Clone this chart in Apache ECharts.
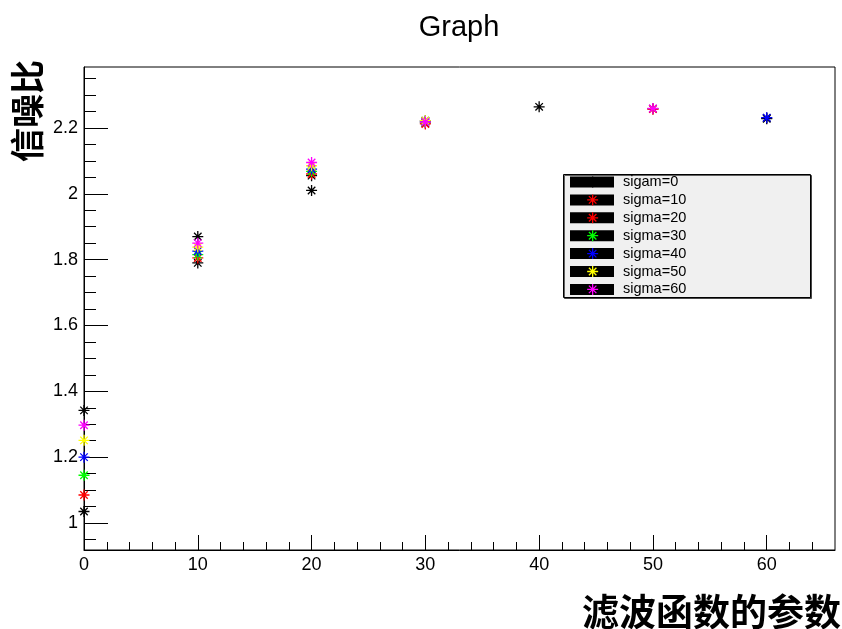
<!DOCTYPE html>
<html>
<head>
<meta charset="utf-8">
<title>Graph</title>
<script src="https://cdn.jsdelivr.net/npm/echarts@6/dist/echarts.min.js"></script>
<style>
  html, body { margin: 0; padding: 0; background: #fff; }
  #chart { width: 842px; height: 629px; }
</style>
</head>
<body>
<div id="chart"></div>
<script>
// Filter parameter values along the x axis
const params = [0, 10, 20, 30, 40, 50, 60];

// Signal-to-noise ratio for each sigma (null = no point at that parameter)
const sigam0  = [1.342, 1.870, 2.055, 2.222, 2.264, 2.258, 2.230];
const sigma10 = [1.035, 1.790, 2.010, 2.215, null,  null,  2.228];
const sigma20 = [1.085, 1.805, 2.060, 2.212, null,  2.257, null ];
const sigma30 = [1.145, 1.815, 2.068, 2.218, null,  null,  null ];
const sigma40 = [1.200, 1.826, 2.075, 2.220, null,  null,  2.231];
const sigma50 = [1.251, 1.838, 2.085, 2.222, null,  null,  null ];
const sigma60 = [1.297, 1.850, 2.095, 2.218, null,  2.259, null ];

const seriesNames = ['sigam=0', 'sigma=10', 'sigma=20', 'sigma=30', 'sigma=40', 'sigma=50', 'sigma=60'];
const seriesValues = [sigam0, sigma10, sigma20, sigma30, sigma40, sigma50, sigma60];
const markerColors = ['#000000', '#000000', '#ff0000', '#00ff00', '#0000ff', '#ffff00', '#ff00ff'];
const legendColors = ['#000000', '#ff0000', '#ff0000', '#00ff00', '#0000ff', '#ffff00', '#ff00ff'];

// Tick positions
const xMajorTicks = [0, 10, 20, 30, 40, 50, 60];
const xMinorTicks = [2, 4, 6, 8, 12, 14, 16, 18, 22, 24, 26, 28, 32, 34, 36, 38, 42, 44, 46, 48, 52, 54, 56, 58, 62, 64];
const yMajorTicks = [1, 1.2, 1.4, 1.6, 1.8, 2, 2.2];
const yMinorTicks = [0.95, 1.05, 1.1, 1.15, 1.25, 1.3, 1.35, 1.45, 1.5, 1.55, 1.65, 1.7, 1.75, 1.85, 1.9, 1.95,
                     2.05, 2.1, 2.15, 2.25, 2.3, 2.35];

const FONT = '"Liberation Sans", Arial, Helvetica, sans-serif';
const CJK = '"Noto Sans CJK SC", sans-serif';

// Asterisk marker (four crossing strokes)
const STAR = 'path://M5 0 L5 10 M0 5 L10 5 M1.6 1.6 L8.4 8.4 M1.6 8.4 L8.4 1.6';

const chart = echarts.init(document.getElementById('chart'), null, { renderer: 'canvas' });

const series = seriesNames.map((name, i) => ({
  name: name,
  type: 'scatter',
  xAxisIndex: 0,
  yAxisIndex: 0,
  symbol: STAR,
  symbolSize: 11,
  itemStyle: { color: markerColors[i], borderColor: markerColors[i], borderWidth: 1.3, opacity: 1 },
  emphasis: { disabled: true },
  data: params.map((x, j) => seriesValues[i][j] == null ? null : [x, seriesValues[i][j]]).filter(d => d)
}));

const legendBase = {
  orient: 'vertical',
  top: 174.5,
  itemHeight: 11,
  itemGap: 3.8,
  selectedMode: false,
  padding: 0,
  z: 6,
  textStyle: { fontFamily: FONT, fontSize: 14.5, lineHeight: 14, color: '#000', padding: [0, 0, 0, 4] }
};

chart.setOption({
  animation: false,
  backgroundColor: '#ffffff',
  grid: {
    left: 84, right: 7, top: 67, bottom: 79,
    show: true, borderColor: '#000', borderWidth: 1, backgroundColor: '#fff'
  },
  xAxis: [
    {
      type: 'value', min: 0, max: 66, position: 'bottom',
      axisLine: { lineStyle: { color: '#000', width: 1 } },
      axisTick: { inside: true, length: 15, customValues: xMajorTicks, lineStyle: { color: '#000' } },
      axisLabel: { customValues: xMajorTicks, fontFamily: FONT, fontSize: 18, color: '#000', margin: 6 },
      splitLine: { show: false }
    },
    {
      type: 'value', min: 0, max: 66, position: 'bottom',
      axisLine: { show: false },
      axisTick: { inside: true, length: 8, customValues: xMinorTicks, lineStyle: { color: '#000' } },
      axisLabel: { show: false },
      splitLine: { show: false }
    }
  ],
  yAxis: [
    {
      type: 'value', min: 0.918, max: 2.385, position: 'left',
      axisLine: { show: true, lineStyle: { color: '#000', width: 1 } },
      axisTick: { show: true, inside: true, length: 24, customValues: yMajorTicks, lineStyle: { color: '#000' } },
      axisLabel: { customValues: yMajorTicks, fontFamily: FONT, fontSize: 18, color: '#000', margin: 6 },
      splitLine: { show: false }
    },
    {
      type: 'value', min: 0.918, max: 2.385, position: 'left',
      axisLine: { show: false },
      axisTick: { show: true, inside: true, length: 12, customValues: yMinorTicks, lineStyle: { color: '#000' } },
      axisLabel: { show: false },
      splitLine: { show: false }
    }
  ],
  legend: [
    // black fill boxes with entry labels
    Object.assign({}, legendBase, {
      left: 570,
      itemWidth: 44,
      icon: 'rect',
      itemGap: 2.9,
      itemStyle: { color: '#000', borderWidth: 0 },
      data: seriesNames
    }),
    // marker drawn in the middle of each fill box
    Object.assign({}, legendBase, {
      left: 586.5,
      itemWidth: 11,
      itemGap: 2.9,
      z: 7,
      textStyle: Object.assign({}, legendBase.textStyle, { color: 'rgba(0,0,0,0)' }),
      icon: STAR,
      data: seriesNames.map((name, i) => ({
        name: name,
        itemStyle: { color: legendColors[i], borderColor: legendColors[i], borderWidth: 1.3 }
      }))
    })
  ],
  graphic: [
    {
      type: 'rect', z: 3, silent: true,
      shape: { x: 563.5, y: 174.5, width: 247, height: 123 },
      style: { fill: '#f0f0f0', stroke: '#000', lineWidth: 1, shadowColor: 'rgba(0,0,0,0.6)', shadowOffsetX: 1, shadowOffsetY: 1 }
    },
    {
      type: 'text', silent: true, x: 459, y: 28,
      style: { text: 'Graph', font: '29px ' + FONT, fill: '#000', textAlign: 'center', textVerticalAlign: 'middle' }
    },
    {
      type: 'text', silent: true, x: 10, y: 162, rotation: Math.PI / 2,
      style: { text: '信噪比', font: 'bold 34px ' + CJK, fill: '#000', textAlign: 'left', textVerticalAlign: 'top' }
    },
    {
      type: 'text', silent: true, x: 841, y: 612,
      style: { text: '滤波函数的参数', font: 'bold 37px ' + CJK, fill: '#000', textAlign: 'right', textVerticalAlign: 'middle' }
    }
  ],
  series: series
});
</script>
</body>
</html>
